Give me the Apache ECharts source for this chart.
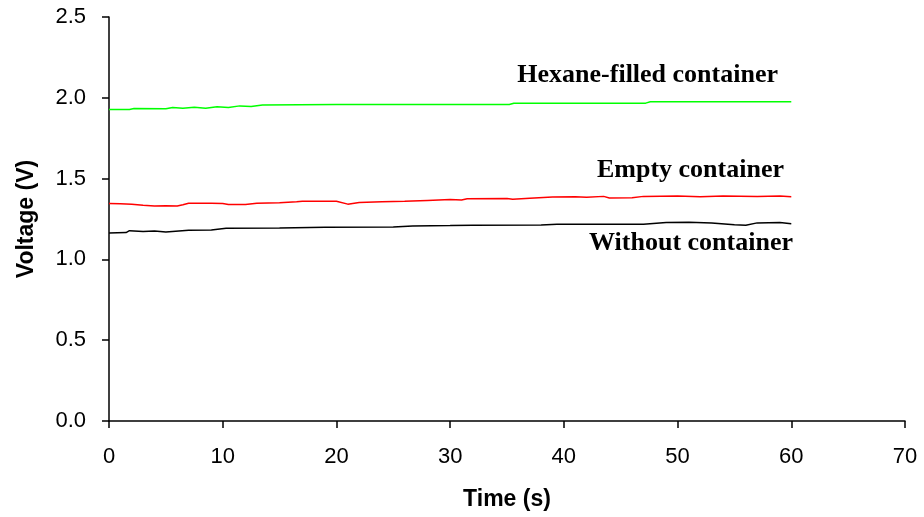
<!DOCTYPE html>
<html>
<head>
<meta charset="utf-8">
<script src="https://cdn.jsdelivr.net/npm/echarts@6/dist/echarts.min.js"></script>
<style>
  html, body { margin: 0; padding: 0; background: #fff; }
  #chart { width: 924px; height: 517px; }
</style>
</head>
<body>
<div id="chart"></div>
<script>
// 数据：时间 (s) 与电压 (V)
var hexaneTime = [0, 1.8, 2.2, 5, 5.6, 6.5, 7.5, 8.5, 9.5, 10.5, 11.5, 12.5, 13.5, 20, 25, 30, 35.2, 35.6, 36, 40, 47.2, 47.6, 50, 55, 60];
var hexaneVolt = [1.928, 1.928, 1.934, 1.932, 1.940, 1.936, 1.942, 1.936, 1.944, 1.940, 1.950, 1.946, 1.956, 1.958, 1.958, 1.958, 1.958, 1.966, 1.967, 1.967, 1.967, 1.975, 1.975, 1.975, 1.975];

var emptyTime = [0, 1, 2, 3, 4, 5, 6, 6.5, 7, 9, 10, 10.5, 12, 13, 15, 16.5, 17, 20, 21, 22, 24, 26, 28, 30, 31, 31.5, 35, 35.5, 37, 39, 41, 42, 43.5, 44, 46, 47, 50, 52, 54, 57, 59, 60];
var emptyVolt = [1.346, 1.344, 1.342, 1.335, 1.330, 1.332, 1.330, 1.338, 1.347, 1.348, 1.346, 1.340, 1.340, 1.347, 1.350, 1.357, 1.360, 1.360, 1.342, 1.352, 1.356, 1.360, 1.365, 1.370, 1.368, 1.375, 1.377, 1.372, 1.378, 1.386, 1.388, 1.384, 1.390, 1.380, 1.382, 1.390, 1.392, 1.388, 1.392, 1.390, 1.393, 1.388];

var withoutTime = [0, 1.5, 1.8, 3, 4, 5, 7, 9, 10.3, 15, 19, 25, 26.7, 30, 32, 38, 39.4, 47, 49, 51, 53, 55, 56, 57, 59, 60];
var withoutVolt = [1.164, 1.166, 1.178, 1.172, 1.176, 1.170, 1.180, 1.182, 1.193, 1.195, 1.199, 1.200, 1.207, 1.210, 1.212, 1.213, 1.218, 1.218, 1.228, 1.230, 1.226, 1.215, 1.212, 1.226, 1.228, 1.220];

var labelNames = ['Hexane-filled container', 'Empty container', 'Without container'];

function pairs(t, v) {
    var out = [];
    for (var i = 0; i < t.length; i++) {
        out.push([t[i], v[i]]);
    }
    return out;
}

var myChart = echarts.init(document.getElementById('chart'));

var sans = 'Arial, "Liberation Sans", sans-serif';
var axisFont = { fontFamily: sans, fontSize: 22, color: '#000' };
var nameFont = { fontFamily: sans, fontSize: 23, fontWeight: 'bold', color: '#000' };
var labelFont = 'bold 26px "Times New Roman", "Liberation Serif", serif';

option = {
    backgroundColor: '#fff',
    animation: false,
    grid: { left: 109, right: 19, top: 17, bottom: 96 },
    xAxis: {
        type: 'value',
        min: 0,
        max: 70,
        interval: 10,
        name: 'Time (s)',
        nameLocation: 'middle',
        nameGap: 67,
        nameTextStyle: nameFont,
        axisLine: { lineStyle: { color: '#000', width: 1.5 } },
        axisTick: { inside: false, length: 7, lineStyle: { color: '#000', width: 1.5 } },
        axisLabel: Object.assign({ margin: 25 }, axisFont),
        splitLine: { show: false }
    },
    yAxis: {
        type: 'value',
        min: 0,
        max: 2.5,
        interval: 0.5,
        name: 'Voltage (V)',
        nameLocation: 'middle',
        nameGap: 71,
        nameTextStyle: nameFont,
        axisLine: { show: true, lineStyle: { color: '#000', width: 1.5 } },
        axisTick: { show: true, inside: false, length: 7, lineStyle: { color: '#000', width: 1.5 } },
        axisLabel: Object.assign({ margin: 23, formatter: function (v) { return v.toFixed(1); } }, axisFont),
        splitLine: { show: false }
    },
    series: [
        {
            name: labelNames[0],
            type: 'line',
            showSymbol: false,
            data: pairs(hexaneTime, hexaneVolt),
            lineStyle: { color: '#00ff00', width: 1.5 }
        },
        {
            name: labelNames[1],
            type: 'line',
            showSymbol: false,
            data: pairs(emptyTime, emptyVolt),
            lineStyle: { color: '#ff0000', width: 1.5 }
        },
        {
            name: labelNames[2],
            type: 'line',
            showSymbol: false,
            data: pairs(withoutTime, withoutVolt),
            lineStyle: { color: '#000', width: 1.5 }
        }
    ],
    graphic: [
        { type: 'text', right: 924 - 778, top: 62, style: { text: labelNames[0], font: labelFont, fill: '#000' } },
        { type: 'text', right: 924 - 784, top: 157, style: { text: labelNames[1], font: labelFont, fill: '#000' } },
        { type: 'text', right: 924 - 793, top: 230, style: { text: labelNames[2], font: labelFont, fill: '#000' } }
    ]
};

myChart.setOption(option);
</script>
</body>
</html>
